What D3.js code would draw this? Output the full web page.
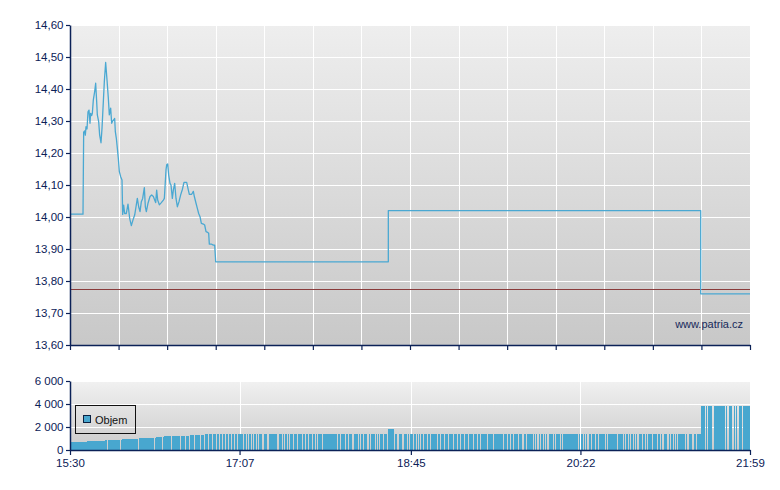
<!DOCTYPE html>
<html><head><meta charset="utf-8">
<script src="https://cdn.jsdelivr.net/npm/d3@7"></script>
<style>
body{margin:0;background:#fff}
svg text{font-family:"Liberation Sans",Arial,sans-serif}
</style>
</head><body>
<svg id="chart" width="780" height="490"></svg>
<script>
// ---------- data ----------
const timeLabels = ["15:30","17:07","18:45","20:22","21:59"];
const sessionStart = "15:30";
const sessionEnd = "21:59";
const priceTicks = [13.6,13.7,13.8,13.9,14.0,14.1,14.2,14.3,14.4,14.5,14.6];
const volumeTicks = [0,2000,4000,6000];
const prevClose = 13.775;
const watermark = "www.patria.cz";
const legendLabel = "Objem";

// minutes after 15:30
const priceMinutes = [0,7.44,7.82,8.39,8.77,9.15,9.73,10.30,10.87,11.44,11.82,12.40,12.78,13.35,14.11,14.68,15.26,15.64,16.40,16.97,17.73,18.31,18.88,19.64,20.40,21.17,21.93,22.50,23.27,23.84,24.41,24.98,25.55,25.93,26.51,27.08,27.65,28.22,28.99,29.75,30.13,30.70,31.27,32.23,33.18,34.13,35.09,36.04,37.00,37.76,38.52,39.28,40.05,40.81,41.57,42.53,43.10,43.67,44.63,45.77,46.72,47.68,48.44,49.01,49.58,50.16,51.11,52.25,53.40,53.97,54.92,55.31,55.88,56.45,57.21,57.78,58.55,59.12,59.88,60.64,61.41,62.36,63.31,64.27,65.22,66.75,67.70,68.27,69.61,70.56,71.13,72.09,72.85,73.61,74.38,75.14,76.28,77.04,77.81,78.76,79.33,79.71,81.05,82.00,82.77,83.34,182.1,182.1,360.8,360.8,389];
const priceValues = [14.009,14.009,14.265,14.269,14.256,14.282,14.275,14.329,14.334,14.293,14.324,14.317,14.324,14.366,14.392,14.418,14.360,14.319,14.298,14.256,14.232,14.277,14.340,14.423,14.483,14.428,14.371,14.319,14.340,14.293,14.300,14.303,14.308,14.267,14.246,14.215,14.183,14.142,14.126,14.116,14.008,14.037,14.011,14.011,14.040,13.996,13.973,13.991,14.006,14.032,14.058,14.032,14.017,14.048,14.058,14.092,14.032,14.017,14.043,14.064,14.069,14.064,14.053,14.045,14.084,14.053,14.038,14.045,14.053,14.058,14.147,14.163,14.166,14.131,14.105,14.100,14.058,14.084,14.105,14.058,14.032,14.048,14.069,14.086,14.108,14.108,14.084,14.071,14.071,14.080,14.064,14.043,14.027,14.011,14.001,13.980,13.978,13.975,13.954,13.952,13.949,13.915,13.915,13.912,13.912,13.860,13.860,14.020,14.020,13.760,13.760];

// volume: levels (minute at which the level starts, value) and minutes without trades
const volLevelStart = [0,9.9,20,29.6,39.1,49.2,53.8,68.6,77.2,182.1,185.5,360.8];
const volLevelValue = [720,810,870,957,1015,1100,1190,1300,1390,1830,1410,3850];
const noTradeMinutes = [21.3,28.6,39.1,48.1,52.5,57.6,62.9,65.8,68.2,70.9,74.4,76.7,78.9,81.2,83.5,85.2,87.0,88.7,90.4,92.1,93.8,95.5,
 99.1,100.7,102.0,103.5,104.9,106.4,107.7,109.7,110.6,112.5,113.4,118.2,119.2,121.1,122.6,124.0,125.5,127.7,129.7,132.6,134.4,136.3,138.3,140.2,141.1,144.0,152.6,154.5,157.3,159.2,161.2,162.1,164.9,165.9,167.8,169.7,170.7,171.6,174.5,175.5,176.9,179.2,181.2,185.5,186.9,187.8,189.8,190.7,192.6,194.1,
 196.4,197.9,199.3,200.2,201.8,204.1,206.0,209.8,211.7,214.0,216.4,219.3,221.2,223.1,225.4,227.9,230.7,233.0,234.6,238.4,242.2,247.9,249.8,251.7,253.6,256.5,
 258.4,259.3,260.7,264.7,266.0,267.0,267.9,268.9,270.4,271.7,272.7,273.6,276.5,277.5,280.3,281.3,290.8,291.8,293.6,294.6,295.6,296.5,297.9,300.3,302.2,306.1,307.0,312.8,316.6,317.5,319.4,320.4,322.3,323.2,324.2,325.1,327.0,328.9,329.9,332.8,335.6,337.5,338.5,339.4,341.4,342.3,343.2,344.8,346.1,347.1,351.8,352.8,353.8,355.7,356.6,358.1,
 363.3,364.3,367.1,368.0,374.7,375.7,376.6,378.5,379.5,380.4,381.4,382.3,384.6];

// ---------- drawing ----------
const toMin = s => { const [h,m] = s.split(":").map(Number); return h*60+m; };
const totalMin = toMin(sessionEnd) - toMin(sessionStart);
const svg = d3.select("#chart");
const navy = "#0b2157";
const lineBlue = "#4aa8d2";
const barBlue = "#48a7cf";
const fmt = v => v.toFixed(2).replace(".", ",");
const fmtVol = v => d3.format(",")(v).replace(/,/g, " ");

const L = 70, R = 750;
const x = d3.scaleLinear().domain([0,totalMin]).range([L,R]);

// gradients
const defs = svg.append("defs");
function grad(id, c1, c2){
  const g = defs.append("linearGradient").attr("id",id).attr("x1",0).attr("x2",0).attr("y1",0).attr("y2",1);
  g.append("stop").attr("offset","0%").attr("stop-color",c1);
  g.append("stop").attr("offset","100%").attr("stop-color",c2);
}
grad("gMain","#eeeeee","#c8c8c8");
grad("gVol","#f1f1f1","#cbcbcb");

// ===== price panel =====
const pTop = 25, pBot = 345;
const y = d3.scaleLinear().domain([13.6,14.6]).range([pBot,pTop]);
svg.append("rect").attr("x",L).attr("y",pTop).attr("width",R-L).attr("height",pBot-pTop).attr("fill","url(#gMain)");

const gridMinutes = d3.range(0,15).map(i => i*totalMin/14);
const grid = svg.append("g").attr("stroke","#fff").attr("stroke-width",1).attr("shape-rendering","crispEdges");
grid.selectAll("line.h").data(priceTicks).join("line")
  .attr("x1",L).attr("x2",R).attr("y1",d=>Math.round(y(d))+0.5).attr("y2",d=>Math.round(y(d))+0.5);
grid.selectAll("line.v").data(gridMinutes.slice(1)).join("line")
  .attr("y1",pTop).attr("y2",pBot).attr("x1",d=>Math.round(x(d))+0.5).attr("x2",d=>Math.round(x(d))+0.5);

// previous close line
svg.append("line").attr("x1",L).attr("x2",R)
  .attr("y1",Math.round(y(prevClose))+0.5).attr("y2",Math.round(y(prevClose))+0.5)
  .attr("stroke","#8a3c3c").attr("stroke-width",1).attr("shape-rendering","crispEdges");

// price line
const pts = priceMinutes.map((m,i)=>[m,priceValues[i]]);
svg.append("path").datum(pts)
  .attr("d", d3.line().x(d=>x(d[0])).y(d=>y(d[1])))
  .attr("fill","none").attr("stroke",lineBlue).attr("stroke-width",1.3).attr("stroke-linejoin","round");

// watermark
svg.append("text").attr("x",743).attr("y",328).attr("text-anchor","end")
  .attr("font-size",11).attr("fill","#16295a").text(watermark);

// axes
svg.append("g").attr("transform",`translate(${L},0)`)
  .call(d3.axisLeft(y).tickValues(priceTicks).tickFormat(fmt).tickSize(4).tickSizeOuter(0).tickPadding(2.5));
svg.append("g").attr("transform",`translate(0,${pBot})`)
  .call(d3.axisBottom(x).tickValues(gridMinutes).tickFormat("").tickSize(5).tickSizeOuter(0));

// ===== volume panel =====
const vTop = 381, vBot = 450;
const yv = d3.scaleLinear().domain([0,6000]).range([vBot,vTop]);
svg.append("rect").attr("x",L).attr("y",vTop).attr("width",R-L).attr("height",vBot-vTop).attr("fill","url(#gVol)");
const labelMinutes = timeLabels.map(s => toMin(s)-toMin(sessionStart));
const vgrid = svg.append("g").attr("stroke","#fff").attr("stroke-width",1).attr("shape-rendering","crispEdges");
vgrid.selectAll("line.h").data(volumeTicks.slice(1)).join("line")
  .attr("x1",L).attr("x2",R).attr("y1",d=>Math.round(yv(d))+0.5).attr("y2",d=>Math.round(yv(d))+0.5);
vgrid.selectAll("line.v").data(labelMinutes.slice(1,-1)).join("line")
  .attr("y1",vTop).attr("y2",vBot).attr("x1",d=>Math.round(x(d))+0.5).attr("x2",d=>Math.round(x(d))+0.5);

// bars: split session at level changes and at no-trade minutes
const gapSet = new Set(noTradeMinutes);
const edges = Array.from(new Set([...volLevelStart, ...noTradeMinutes, totalMin])).sort((a,b)=>a-b);
const levelAt = m => { let v = volLevelValue[0]; volLevelStart.forEach((s,i)=>{ if (s <= m + 1e-6) v = volLevelValue[i]; }); return v; };
const bars = [];
for (let i=0;i<edges.length-1;i++){
  bars.push({a:edges[i], b:edges[i+1], gap:gapSet.has(edges[i]), v:levelAt(edges[i])});
}
svg.append("g").attr("shape-rendering","crispEdges").selectAll("rect").data(bars).join("rect")
  .attr("x",d=>x(d.a)+(d.gap?1:0))
  .attr("width",d=>Math.max(0.5, x(d.b)-x(d.a)-(d.gap?1:0)))
  .attr("y",d=>yv(d.v)).attr("height",d=>vBot-yv(d.v))
  .attr("fill",barBlue);

svg.append("g").attr("transform",`translate(${L},0)`)
  .call(d3.axisLeft(yv).tickValues(volumeTicks).tickFormat(fmtVol).tickSize(4).tickSizeOuter(0).tickPadding(2.5));
svg.append("g").attr("transform",`translate(0,${vBot})`)
  .call(d3.axisBottom(x).tickValues(labelMinutes).tickFormat((d,i)=>timeLabels[i]).tickSize(5).tickSizeOuter(0).tickPadding(4));

// legend
const lg = svg.append("g");
lg.append("rect").attr("x",75.5).attr("y",405.5).attr("width",60).attr("height",28)
  .attr("fill","none").attr("stroke","#111").attr("stroke-width",1);
lg.append("rect").attr("x",83.5).attr("y",415.5).attr("width",7).attr("height",7)
  .attr("fill",barBlue).attr("stroke","#0b2040").attr("stroke-width",1);
lg.append("text").attr("x",95).attr("y",423.5).attr("font-size",11).attr("fill","#111").text(legendLabel);

// axis styling
svg.selectAll(".domain").attr("stroke",navy).attr("stroke-width",1.5);
svg.selectAll(".tick line").attr("stroke",navy).attr("stroke-width",1.2);
svg.selectAll(".tick text").attr("fill",navy).attr("font-size",11.5).attr("font-family","\"Liberation Sans\",Arial,sans-serif");
</script>
</body></html>
